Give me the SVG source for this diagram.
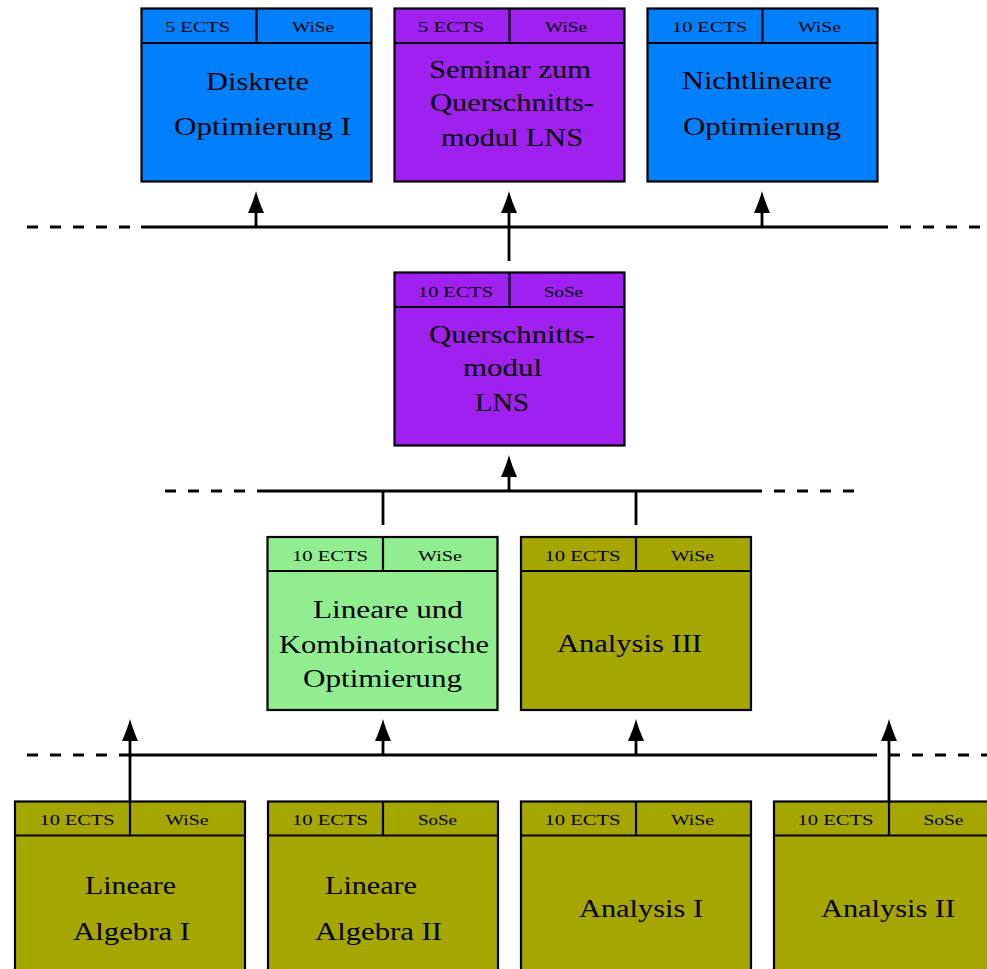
<svg xmlns="http://www.w3.org/2000/svg" xmlns:xlink="http://www.w3.org/1999/xlink" width="987" height="969" viewBox="0 0 987 969">
<style>
.box{stroke:#000;stroke-width:2.2}
.sep{stroke:#000;stroke-width:2.2;fill:none}
.blue{fill:#0080FF}
.purple{fill:#A020F0}
.green{fill:#90EE90}
.olive{fill:#A6A600}
.hd{font-family:"Liberation Serif","Times New Roman",serif;font-size:14.5px;fill:#000}
.tx{font-family:"Liberation Serif","Times New Roman",serif;font-size:25px;fill:#000}
.ln{stroke:#000;stroke-width:2.8;fill:none}
.ds{stroke:#000;stroke-width:2.8;fill:none;stroke-dasharray:11 12}
</style>
<defs>
<path id="ah" d="M0,0 C-1.5,6 -4.5,14 -8,22 L8,22 C4.5,14 1.5,6 0,0 Z" fill="#000"/>
</defs>

<g id="connectors">
<line class="ds" x1="27" y1="227" x2="141" y2="227"/>
<line class="ln" x1="141" y1="227" x2="877" y2="227"/>
<line class="ds" x1="877" y1="227" x2="987" y2="227"/>
<line class="ln" x1="256" y1="227" x2="256" y2="205"/>
<use xlink:href="#ah" x="256" y="191"/>
<line class="ln" x1="509" y1="261" x2="509" y2="205"/>
<use xlink:href="#ah" x="509" y="191"/>
<line class="ln" x1="762" y1="227" x2="762" y2="205"/>
<use xlink:href="#ah" x="762" y="191"/>
<line class="ds" x1="165" y1="491" x2="257" y2="491"/>
<line class="ln" x1="257" y1="491" x2="751" y2="491"/>
<line class="ds" x1="751" y1="491" x2="856" y2="491"/>
<line class="ln" x1="509" y1="491" x2="509" y2="469"/>
<use xlink:href="#ah" x="509" y="455"/>
<line class="ln" x1="383" y1="491" x2="383" y2="525"/>
<line class="ln" x1="636" y1="491" x2="636" y2="525"/>
<line class="ds" x1="27" y1="755" x2="130" y2="755"/>
<line class="ln" x1="130" y1="755" x2="866" y2="755"/>
<line class="ds" x1="866" y1="755" x2="987" y2="755"/>
<line class="ln" x1="130" y1="801" x2="130" y2="733"/>
<use xlink:href="#ah" x="130" y="719"/>
<line class="ln" x1="383" y1="755" x2="383" y2="733"/>
<use xlink:href="#ah" x="383" y="719"/>
<line class="ln" x1="636" y1="755" x2="636" y2="733"/>
<use xlink:href="#ah" x="636" y="719"/>
<line class="ln" x1="889" y1="801" x2="889" y2="733"/>
<use xlink:href="#ah" x="889" y="719"/>
</g>

<g id="diskrete">
<rect class="box blue" x="141.5" y="8.5" width="230" height="173"/>
<path class="sep" d="M141.5,43 H371.5 M256.5,8.5 V43"/>
<text class="hd" x="165" y="31.5" textLength="65" lengthAdjust="spacingAndGlyphs">5 ECTS</text>
<text class="hd" x="292" y="31.5" textLength="42" lengthAdjust="spacingAndGlyphs">WiSe</text>
<text class="tx" x="206" y="90" textLength="103" lengthAdjust="spacingAndGlyphs">Diskrete</text>
<text class="tx" x="174" y="134.5" textLength="177" lengthAdjust="spacingAndGlyphs">Optimierung I</text>
</g>

<g id="seminar">
<rect class="box purple" x="394.5" y="8.5" width="230" height="173"/>
<path class="sep" d="M394.5,43 H624.5 M509.5,8.5 V43"/>
<text class="hd" x="418" y="31.5" textLength="66" lengthAdjust="spacingAndGlyphs">5 ECTS</text>
<text class="hd" x="545" y="31.5" textLength="42" lengthAdjust="spacingAndGlyphs">WiSe</text>
<text class="tx" x="429" y="77.5" textLength="162" lengthAdjust="spacingAndGlyphs">Seminar zum</text>
<text class="tx" x="430" y="110.5" textLength="164" lengthAdjust="spacingAndGlyphs">Querschnitts-</text>
<text class="tx" x="441" y="146" textLength="142" lengthAdjust="spacingAndGlyphs">modul LNS</text>
</g>

<g id="nichtlineare">
<rect class="box blue" x="647.5" y="8.5" width="230" height="173"/>
<path class="sep" d="M647.5,43 H877.5 M762.5,8.5 V43"/>
<text class="hd" x="672" y="31.5" textLength="75" lengthAdjust="spacingAndGlyphs">10 ECTS</text>
<text class="hd" x="798" y="31.5" textLength="43" lengthAdjust="spacingAndGlyphs">WiSe</text>
<text class="tx" x="682" y="89" textLength="150" lengthAdjust="spacingAndGlyphs">Nichtlineare</text>
<text class="tx" x="683" y="134.5" textLength="158" lengthAdjust="spacingAndGlyphs">Optimierung</text>
</g>

<g id="querschnitt">
<rect class="box purple" x="394.5" y="272.5" width="230" height="173"/>
<path class="sep" d="M394.5,307 H624.5 M509.5,272.5 V307"/>
<text class="hd" x="418" y="296.5" textLength="75" lengthAdjust="spacingAndGlyphs">10 ECTS</text>
<text class="hd" x="544" y="296.5" textLength="39" lengthAdjust="spacingAndGlyphs">SoSe</text>
<text class="tx" x="429" y="343" textLength="166" lengthAdjust="spacingAndGlyphs">Querschnitts-</text>
<text class="tx" x="463" y="375.5" textLength="79" lengthAdjust="spacingAndGlyphs">modul</text>
<text class="tx" x="475" y="411" textLength="54" lengthAdjust="spacingAndGlyphs">LNS</text>
</g>

<g id="lko">
<rect class="box green" x="267.5" y="537" width="230" height="173"/>
<path class="sep" d="M267.5,571 H497.5 M383,537 V571"/>
<text class="hd" x="292" y="560.5" textLength="76" lengthAdjust="spacingAndGlyphs">10 ECTS</text>
<text class="hd" x="418" y="560.5" textLength="44" lengthAdjust="spacingAndGlyphs">WiSe</text>
<text class="tx" x="313" y="618" textLength="150" lengthAdjust="spacingAndGlyphs">Lineare und</text>
<text class="tx" x="279" y="652.5" textLength="210" lengthAdjust="spacingAndGlyphs">Kombinatorische</text>
<text class="tx" x="303" y="687" textLength="159" lengthAdjust="spacingAndGlyphs">Optimierung</text>
</g>

<g id="analysis3">
<rect class="box olive" x="521" y="537" width="230" height="173"/>
<path class="sep" d="M521,571 H751 M636,537 V571"/>
<text class="hd" x="544.5" y="560.5" textLength="76" lengthAdjust="spacingAndGlyphs">10 ECTS</text>
<text class="hd" x="671" y="560.5" textLength="43" lengthAdjust="spacingAndGlyphs">WiSe</text>
<text class="tx" x="557" y="652" textLength="145" lengthAdjust="spacingAndGlyphs">Analysis III</text>
</g>

<g id="la1">
<rect class="box olive" x="15" y="801.5" width="230" height="200"/>
<path class="sep" d="M15,835.5 H245 M130,801.5 V835.5"/>
<text class="hd" x="39.5" y="825" textLength="75" lengthAdjust="spacingAndGlyphs">10 ECTS</text>
<text class="hd" x="165.5" y="825" textLength="43" lengthAdjust="spacingAndGlyphs">WiSe</text>
<text class="tx" x="85" y="894" textLength="91" lengthAdjust="spacingAndGlyphs">Lineare</text>
<text class="tx" x="73" y="939.5" textLength="117" lengthAdjust="spacingAndGlyphs">Algebra I</text>
</g>

<g id="la2">
<rect class="box olive" x="268" y="801.5" width="230" height="200"/>
<path class="sep" d="M268,835.5 H498 M383,801.5 V835.5"/>
<text class="hd" x="292" y="825" textLength="76" lengthAdjust="spacingAndGlyphs">10 ECTS</text>
<text class="hd" x="418" y="825" textLength="39" lengthAdjust="spacingAndGlyphs">SoSe</text>
<text class="tx" x="325" y="894" textLength="92" lengthAdjust="spacingAndGlyphs">Lineare</text>
<text class="tx" x="315" y="939.5" textLength="127" lengthAdjust="spacingAndGlyphs">Algebra II</text>
</g>

<g id="ana1">
<rect class="box olive" x="521" y="801.5" width="230" height="200"/>
<path class="sep" d="M521,835.5 H751 M636,801.5 V835.5"/>
<text class="hd" x="544.5" y="825" textLength="76" lengthAdjust="spacingAndGlyphs">10 ECTS</text>
<text class="hd" x="671" y="825" textLength="43" lengthAdjust="spacingAndGlyphs">WiSe</text>
<text class="tx" x="579" y="917" textLength="124" lengthAdjust="spacingAndGlyphs">Analysis I</text>
</g>

<g id="ana2">
<rect class="box olive" x="774" y="801.5" width="230" height="200"/>
<path class="sep" d="M774,835.5 H1004 M889,801.5 V835.5"/>
<text class="hd" x="797.5" y="825" textLength="76" lengthAdjust="spacingAndGlyphs">10 ECTS</text>
<text class="hd" x="923.5" y="825" textLength="40" lengthAdjust="spacingAndGlyphs">SoSe</text>
<text class="tx" x="821" y="917" textLength="134" lengthAdjust="spacingAndGlyphs">Analysis II</text>
</g>
</svg>
